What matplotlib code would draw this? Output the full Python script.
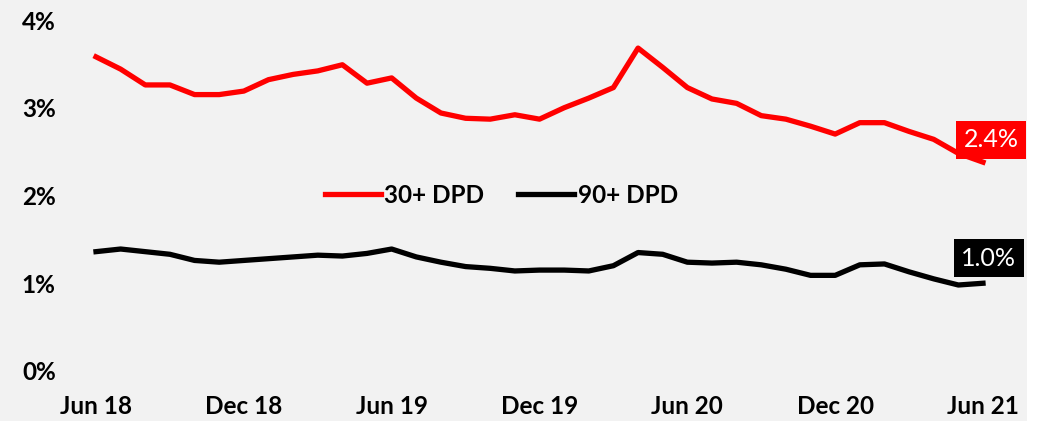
import matplotlib.pyplot as plt
from matplotlib.patches import Rectangle

months = ["Jun 18", "Jul 18", "Aug 18", "Sep 18", "Oct 18", "Nov 18", "Dec 18",
          "Jan 19", "Feb 19", "Mar 19", "Apr 19", "May 19", "Jun 19", "Jul 19",
          "Aug 19", "Sep 19", "Oct 19", "Nov 19", "Dec 19", "Jan 20", "Feb 20",
          "Mar 20", "Apr 20", "May 20", "Jun 20", "Jul 20", "Aug 20", "Sep 20",
          "Oct 20", "Nov 20", "Dec 20", "Jan 21", "Feb 21", "Mar 21", "Apr 21",
          "May 21", "Jun 21"]

dpd30 = [3.58, 3.44, 3.26, 3.26, 3.15, 3.15, 3.19, 3.32, 3.38, 3.42, 3.49, 3.28,
         3.34, 3.11, 2.94, 2.88, 2.87, 2.92, 2.87, 3.00, 3.11, 3.23, 3.68, 3.46,
         3.23, 3.10, 3.05, 2.91, 2.87, 2.79, 2.70, 2.83, 2.83, 2.73, 2.64, 2.48,
         2.38]

dpd90 = [1.36, 1.39, 1.36, 1.33, 1.26, 1.24, 1.26, 1.28, 1.30, 1.32, 1.31, 1.34,
         1.39, 1.30, 1.24, 1.19, 1.17, 1.14, 1.15, 1.15, 1.14, 1.20, 1.35, 1.33,
         1.24, 1.23, 1.24, 1.21, 1.16, 1.09, 1.09, 1.21, 1.22, 1.13, 1.05, 0.98,
         1.00]

yticks = [0, 1, 2, 3, 4]
ytick_labels = ["0%", "1%", "2%", "3%", "4%"]

plt.rcParams['font.family'] = ['Lato', 'DejaVu Sans']

bg = "#f2f2f2"
fig = plt.figure(figsize=(10.41, 4.21), dpi=100, facecolor=bg)
fig.patches.append(Rectangle((1027 / 1041, 0), 1, 1, transform=fig.transFigure,
                             facecolor="white", edgecolor="none", zorder=-1))
ax = fig.add_axes([96 / 1041, 50 / 421, 887 / 1041, 351 / 421])
ax.set_facecolor(bg)

x = list(range(len(months)))
ax.plot(x, dpd30, color="#ff0000", linewidth=3.8, label="30+ DPD", clip_on=False)
ax.plot(x, dpd90, color="#000000", linewidth=3.8, label="90+ DPD", clip_on=False)

ax.set_xlim(0, len(months) - 1)
ax.set_ylim(0, 4)
ax.set_yticks(yticks)
ax.set_yticklabels(ytick_labels, fontsize=17.5, fontweight="bold")
ax.set_xticks(x[::6])
ax.set_xticklabels(months[::6], fontsize=17.5, fontweight="bold")
ax.tick_params(axis="y", length=0, pad=29)
ax.tick_params(axis="x", length=0, pad=17)
for s in ax.spines.values():
    s.set_visible(False)

ax.annotate("2.4%", (x[-1], dpd30[-1]), xytext=(6, 16), textcoords="offset points",
            ha="center", va="center", color="white", fontsize=18,
            bbox=dict(boxstyle="square,pad=0.3", facecolor="#ff0000", edgecolor="none"))
ax.annotate("1.0%", (x[-1], dpd90[-1]), xytext=(4, 18), textcoords="offset points",
            ha="center", va="center", color="white", fontsize=18,
            bbox=dict(boxstyle="square,pad=0.3", facecolor="#000000", edgecolor="none"))

ax.legend(loc="center", bbox_to_anchor=(0.457, 0.5), ncol=2, frameon=False,
          prop={"weight": "bold", "size": 17.5}, handlelength=2.3,
          handletextpad=0.15, columnspacing=1.4)

fig.savefig("out.png", dpi=100, facecolor=bg)
